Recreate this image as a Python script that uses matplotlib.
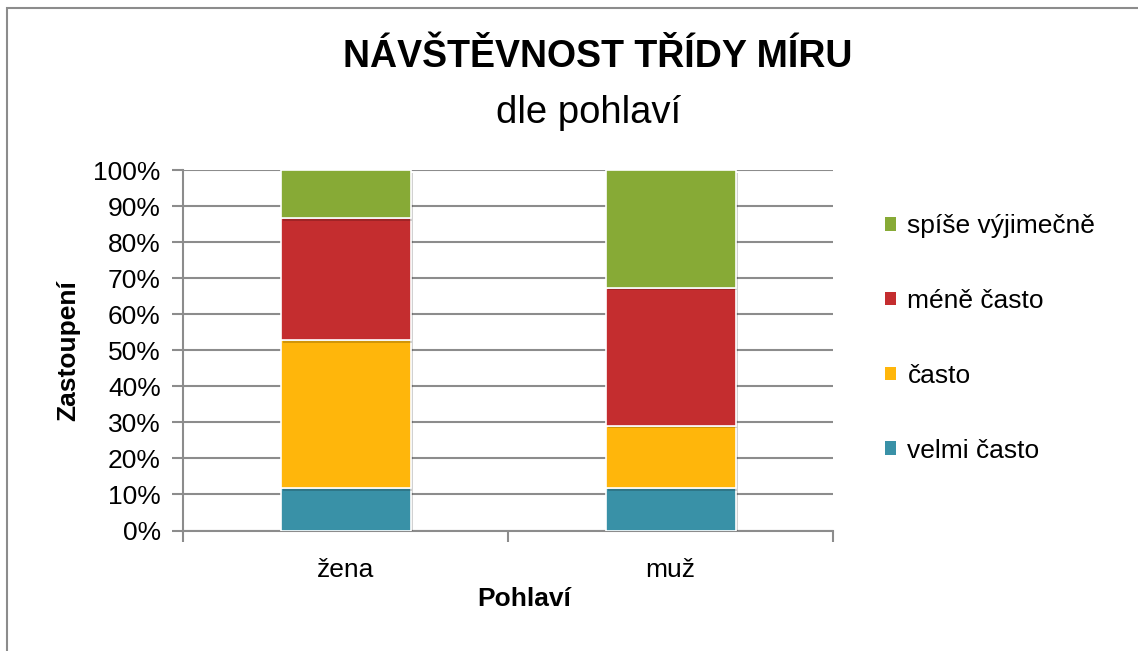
import matplotlib
matplotlib.use("Agg")
import matplotlib.pyplot as plt
import matplotlib.patheffects as pe
from matplotlib.patches import Rectangle, Patch
from matplotlib.ticker import PercentFormatter
import numpy as np

plt.rcParams['font.family'] = ['Liberation Sans', 'DejaVu Sans']

categories = ["žena", "muž"]
series_names = ["velmi často", "často", "méně často", "spíše výjimečně"]
velmi_casto = [11.7, 11.7]
casto = [41.1, 17.4]
mene_casto = [33.9, 38.3]
spise_vyjimecne = [13.3, 32.6]
colors = ["#3991A7", "#FFB60B", "#C42D2F", "#87AA36"]

series = [velmi_casto, casto, mene_casto, spise_vyjimecne]

fig = plt.figure(figsize=(11.38, 6.51), dpi=100)
fig.patches.append(Rectangle((7/1138, -0.1), 1.2, 1 - 8/651 + 0.1, transform=fig.transFigure,
                             fill=False, edgecolor="#8c8c8c", linewidth=1.5))

ax = fig.add_axes([183/1138, 1 - 530.5/651, 650/1138, 360.5/651])

x = np.arange(len(categories))
bottom = np.zeros(len(categories))
for vals, name, c in zip(series, series_names, colors):
    bars = ax.bar(x, vals, width=0.4, bottom=bottom, color=c, edgecolor="white",
                  linewidth=1.2, label=name, zorder=3)
    for b in bars:
        b.set_path_effects([pe.SimplePatchShadow(offset=(2, -2), shadow_rgbFace="#000000", alpha=0.18),
                            pe.Normal()])
    bottom += np.array(vals)

ax.set_xlim(-0.5, 1.5)
ax.set_ylim(0, 100)
ax.set_yticks(np.arange(0, 101, 10))
ax.yaxis.set_major_formatter(PercentFormatter(decimals=0))
ax.set_xticks(x)
ax.set_xticklabels(categories)
ax.set_xticks([-0.5, 0.5, 1.5], minor=True)
ax.tick_params(axis='x', which='major', length=0, pad=20, labelsize=19)
ax.tick_params(axis='x', which='minor', length=8, width=1.5, color="#8c8c8c", direction='out')
ax.tick_params(axis='y', length=8, width=1.5, color="#8c8c8c", direction='out', pad=8, labelsize=19)

ax.grid(axis='y', color="#8c8c8c", linewidth=1.5, zorder=0)
ax.set_axisbelow(True)
for s in ["top", "right"]:
    ax.spines[s].set_visible(False)
for s in ["left", "bottom"]:
    ax.spines[s].set_color("#8c8c8c")
    ax.spines[s].set_linewidth(1.5)

fig.text(68/1138, 1 - 351/651, "Zastoupení", rotation=90, ha='center', va='center',
         fontsize=19, fontweight='bold')
fig.text(524/1138, 1 - 599/651, "Pohlaví", ha='center', va='center',
         fontsize=19, fontweight='bold')
fig.text(598/1138, 1 - 57/651, "NÁVŠTĚVNOST TŘÍDY MÍRU", ha='center', va='center',
         fontsize=27, fontweight='bold')
fig.text(589/1138, 1 - 113/651, "dle pohlaví", ha='center', va='center', fontsize=27.5)

proxies = [Patch(facecolor=c, edgecolor='none') for c in colors]
leg = fig.legend(proxies[::-1], series_names[::-1], loc='center left',
                 bbox_to_anchor=(885/1138, 1 - 338.5/651), frameon=False,
                 fontsize=19, handlelength=0.4, handleheight=0.4, handletextpad=0.45,
                 labelspacing=1.92, borderpad=0, borderaxespad=0)

fig.savefig("out.png", dpi=100)
